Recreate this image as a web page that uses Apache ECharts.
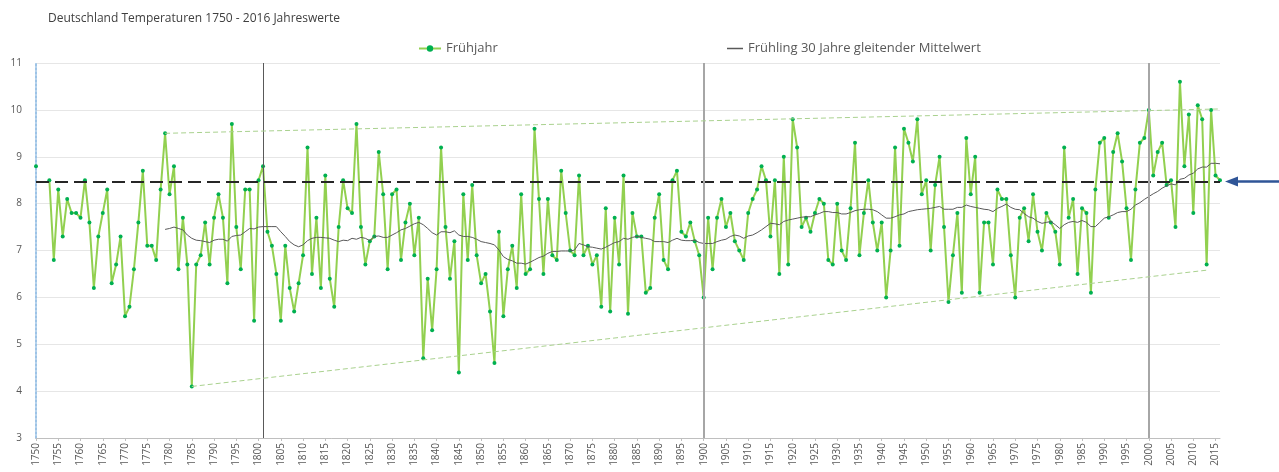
<!DOCTYPE html>
<html>
<head>
<meta charset="utf-8">
<script src="https://cdn.jsdelivr.net/npm/echarts@6/dist/echarts.min.js"></script>
<style>
  html, body { margin: 0; padding: 0; background: #fff; }
  #chart { width: 1279px; height: 472px; }
</style>
</head>
<body>
<div id="chart"></div>
<script>
// Jahre 1750 - 2016 (Kategorien)
var firstYear = 1750
var lastYear = 2016

// Frühjahr Mitteltemperatur, ein Wert pro Jahr ab 1750 (1751/1752 fehlen)
var fruehjahr = [
  8.8, null, null, 8.5, 6.8, 8.3, 7.3, 8.1, 7.8, 7.8,   // 1750
  7.7, 8.5, 7.6, 6.2, 7.3, 7.8, 8.3, 6.3, 6.7, 7.3,     // 1760
  5.6, 5.8, 6.6, 7.6, 8.7, 7.1, 7.1, 6.8, 8.3, 9.5,     // 1770
  8.2, 8.8, 6.6, 7.7, 6.7, 4.1, 6.7, 6.9, 7.6, 6.7,     // 1780
  7.7, 8.2, 7.7, 6.3, 9.7, 7.5, 6.6, 8.3, 8.3, 5.5,     // 1790
  8.5, 8.8, 7.4, 7.1, 6.5, 5.5, 7.1, 6.2, 5.7, 6.3,     // 1800
  6.9, 9.2, 6.5, 7.7, 6.2, 8.6, 6.4, 5.8, 7.5, 8.5,     // 1810
  7.9, 7.8, 9.7, 7.5, 6.7, 7.2, 7.3, 9.1, 8.2, 6.6,     // 1820
  8.2, 8.3, 6.8, 7.6, 8.0, 6.9, 7.7, 4.7, 6.4, 5.3,     // 1830
  6.6, 9.2, 7.5, 6.4, 7.2, 4.4, 8.2, 6.8, 8.4, 6.9,     // 1840
  6.3, 6.5, 5.7, 4.6, 7.4, 5.6, 6.6, 7.1, 6.2, 8.2,     // 1850
  6.5, 6.6, 9.6, 8.1, 6.5, 8.1, 6.9, 6.8, 8.7, 7.8,     // 1860
  7.0, 6.9, 8.6, 6.9, 7.1, 6.7, 6.9, 5.8, 7.9, 5.7,     // 1870
  7.7, 6.7, 8.6, 5.65, 7.8, 7.3, 7.3, 6.1, 6.2, 7.7,    // 1880
  8.2, 6.8, 6.6, 8.5, 8.7, 7.4, 7.3, 7.6, 7.2, 6.9,     // 1890
  6.0, 7.7, 6.6, 7.7, 8.1, 7.5, 7.8, 7.2, 7.0, 6.8,     // 1900
  7.8, 8.1, 8.3, 8.8, 8.5, 7.3, 8.5, 6.5, 9.0, 6.7,     // 1910
  9.8, 9.2, 7.5, 7.7, 7.4, 7.8, 8.1, 8.0, 6.8, 6.7,     // 1920
  8.0, 7.0, 6.8, 7.9, 9.3, 6.9, 7.8, 8.5, 7.6, 7.0,     // 1930
  7.6, 6.0, 7.0, 9.2, 7.1, 9.6, 9.3, 8.9, 9.8, 8.2,     // 1940
  8.5, 7.0, 8.4, 9.0, 7.5, 5.9, 6.9, 7.8, 6.1, 9.4,     // 1950
  8.2, 9.0, 6.1, 7.6, 7.6, 6.7, 8.3, 8.1, 8.1, 6.9,     // 1960
  6.0, 7.7, 7.9, 7.2, 8.2, 7.4, 7.0, 7.8, 7.6, 7.4,     // 1970
  6.7, 9.2, 7.7, 8.1, 6.5, 7.9, 7.8, 6.1, 8.3, 9.3,     // 1980
  9.4, 7.7, 9.1, 9.5, 8.9, 7.9, 6.8, 8.3, 9.3, 9.4,     // 1990
  10.0, 8.6, 9.1, 9.3, 8.4, 8.5, 7.5, 10.6, 8.8, 9.9,   // 2000
  7.8, 10.1, 9.8, 6.7, 10.0, 8.6, 8.5                   // 2010
]

// 30 Jahre gleitender Mittelwert, ab 1779
var mittelStart = 1779
var mittelwert = [
  7.45,                                                         // 1779
  7.47, 7.50, 7.47, 7.44, 7.33, 7.26, 7.22, 7.21, 7.19, 7.17,   // 1780
  7.22, 7.24, 7.24, 7.20, 7.30, 7.32, 7.33, 7.40, 7.47, 7.46,   // 1790
  7.50, 7.51, 7.51, 7.51, 7.51, 7.40, 7.30, 7.19, 7.12, 7.08,   // 1800
  7.12, 7.21, 7.26, 7.28, 7.28, 7.27, 7.26, 7.22, 7.19, 7.22,   // 1810
  7.21, 7.26, 7.24, 7.28, 7.26, 7.21, 7.30, 7.31, 7.28, 7.28,   // 1820
  7.33, 7.38, 7.44, 7.47, 7.52, 7.57, 7.60, 7.55, 7.47, 7.38,   // 1830
  7.33, 7.40, 7.40, 7.38, 7.42, 7.33, 7.30, 7.30, 7.28, 7.24,   // 1840
  7.19, 7.17, 7.15, 7.12, 7.01, 6.87, 6.81, 6.78, 6.73, 6.73,   // 1850
  6.71, 6.75, 6.80, 6.85, 6.88, 6.94, 6.98, 6.98, 6.99, 6.99,   // 1860
  6.99, 7.01, 7.15, 7.12, 7.08, 7.07, 7.05, 7.03, 7.07, 7.12,   // 1870
  7.17, 7.19, 7.26, 7.24, 7.28, 7.30, 7.28, 7.26, 7.24, 7.19,   // 1880
  7.19, 7.19, 7.17, 7.22, 7.26, 7.22, 7.21, 7.21, 7.22, 7.17,   // 1890
  7.15, 7.15, 7.15, 7.19, 7.22, 7.24, 7.30, 7.33, 7.31, 7.26,   // 1900
  7.31, 7.33, 7.38, 7.44, 7.51, 7.58, 7.57, 7.55, 7.62, 7.65,   // 1910
  7.67, 7.69, 7.71, 7.72, 7.72, 7.76, 7.79, 7.83, 7.83, 7.81,   // 1920
  7.81, 7.78, 7.78, 7.81, 7.85, 7.87, 7.88, 7.88, 7.87, 7.83,   // 1930
  7.76, 7.69, 7.69, 7.72, 7.76, 7.78, 7.83, 7.85, 7.87, 7.88,   // 1940
  7.89, 7.90, 7.92, 7.94, 7.88, 7.88, 7.88, 7.92, 7.92, 7.97,   // 1950
  7.94, 7.92, 7.90, 7.88, 7.87, 7.83, 7.90, 7.94, 7.99, 7.92,   // 1960
  7.88, 7.87, 7.79, 7.72, 7.69, 7.62, 7.58, 7.60, 7.62, 7.55,   // 1970
  7.47, 7.55, 7.60, 7.62, 7.60, 7.64, 7.60, 7.51, 7.51, 7.60,   // 1980
  7.69, 7.72, 7.76, 7.81, 7.83, 7.83, 7.88, 7.97, 8.02, 8.09,   // 1990
  8.15, 8.21, 8.26, 8.33, 8.38, 8.42, 8.40, 8.52, 8.54, 8.61,   // 2000
  8.65, 8.74, 8.78, 8.78, 8.86, 8.86, 8.85                      // 2010
]

// Hilfslinien
var referenzWert = 8.47
var markJahre = ['1801', '1900', '2000']
var trendOben = [['1779', 9.5], ['2016', 10.02]]
var trendUnten = [['1785', 4.1], ['2013', 6.58]]

var years = []
for (var y = firstYear; y <= lastYear; y++) years.push(String(y))

var mittelSerie = years.map(function (yr) {
  var i = Number(yr) - mittelStart
  return i >= 0 ? mittelwert[i] : null
})

var fontFam = '"Open Sans", "Liberation Sans", sans-serif'
var showEvery5 = function (idx) { return idx % 5 === 0 }

var chart = echarts.init(document.getElementById('chart'))
chart.setOption({
  animation: false,
  textStyle: { fontFamily: fontFam },
  title: {
    text: 'Deutschland Temperaturen 1750 - 2016 Jahreswerte',
    left: 43, top: 8,
    textStyle: { fontSize: 12, fontWeight: 'normal', color: '#404040', fontFamily: fontFam }
  },
  legend: [
    {
      left: 413, top: 37,
      itemWidth: 22, itemHeight: 8,
      textStyle: { fontSize: 13, color: '#595959', fontFamily: fontFam },
      data: ['Frühjahr']
    },
    {
      left: 722, top: 37,
      icon: 'rect',
      itemWidth: 16, itemHeight: 1.5,
      textStyle: { fontSize: 13, color: '#595959', fontFamily: fontFam },
      data: ['Frühling 30 Jahre gleitender Mittelwert']
    }
  ],
  grid: { left: 36, right: 59, top: 63, bottom: 34, containLabel: false },
  xAxis: {
    type: 'category',
    data: years,
    boundaryGap: false,
    axisLine: { lineStyle: { color: '#bfbfbf' } },
    axisTick: { interval: showEvery5, length: 3, lineStyle: { color: '#bfbfbf' } },
    axisLabel: {
      interval: showEvery5, rotate: 90, margin: 5,
      fontSize: 10, color: '#595959', fontFamily: fontFam
    },
    splitLine: { show: false }
  },
  yAxis: {
    type: 'value',
    min: 3, max: 11, interval: 1,
    axisLine: { show: true, lineStyle: { color: '#9dc3e6', type: 'dotted', width: 2 } },
    axisTick: { show: false },
    axisLabel: { fontSize: 10, color: '#595959', margin: 14, fontFamily: fontFam },
    splitLine: { lineStyle: { color: '#e6e6e6' } }
  },
  series: [
    {
      name: 'Frühjahr',
      type: 'line',
      data: fruehjahr,
      connectNulls: false,
      symbol: 'circle',
      symbolSize: 4,
      showSymbol: true,
      showAllSymbol: true,
      itemStyle: { color: '#00b050' },
      lineStyle: { color: '#92d050', width: 2 },
      z: 3,
      markLine: {
        silent: true,
        symbol: 'none',
        label: { show: false },
        data: [
          { yAxis: referenzWert, lineStyle: { color: '#262626', type: [13, 6], width: 2 } },
          { xAxis: markJahre[0], lineStyle: { color: '#595959', type: 'solid', width: 1 } },
          { xAxis: markJahre[1], lineStyle: { color: '#a6a6a6', type: 'solid', width: 2 } },
          { xAxis: markJahre[2], lineStyle: { color: '#a6a6a6', type: 'solid', width: 2 } },
          [
            { coord: trendOben[0], lineStyle: { color: '#a9d18e', type: [5, 3], width: 1 } },
            { coord: trendOben[1] }
          ],
          [
            { coord: trendUnten[0], lineStyle: { color: '#a9d18e', type: [5, 3], width: 1 } },
            { coord: trendUnten[1] }
          ]
        ]
      }
    },
    {
      name: 'Frühling 30 Jahre gleitender Mittelwert',
      type: 'line',
      data: mittelSerie,
      showSymbol: false,
      symbol: 'none',
      itemStyle: { color: '#595959' },
      lineStyle: { color: '#595959', width: 1 },
      z: 4
    }
  ]
})

// blauer Pfeil rechts auf Höhe der Referenzlinie
var py = chart.convertToPixel({ yAxisIndex: 0 }, referenzWert)
chart.setOption({
  graphic: [
    {
      type: 'line',
      shape: { x1: 1236, y1: py, x2: 1279, y2: py },
      style: { stroke: '#2f5597', lineWidth: 2.5 }
    },
    {
      type: 'polygon',
      shape: { points: [[1225, py], [1238, py - 5], [1238, py + 5]] },
      style: { fill: '#2f5597' }
    }
  ]
})
</script>
</body>
</html>
